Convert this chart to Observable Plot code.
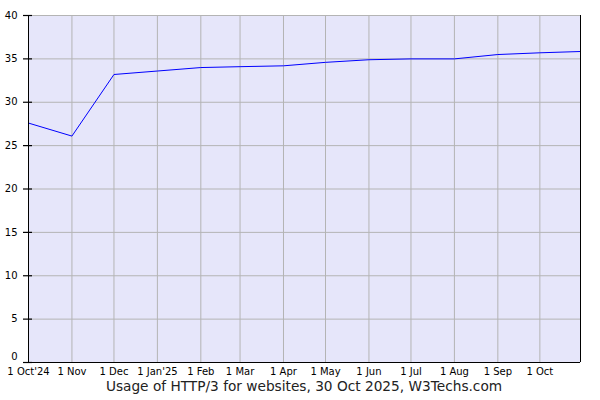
<!DOCTYPE html>
<html>
<head>
<meta charset="utf-8">
<script src="https://cdn.jsdelivr.net/npm/d3@7"></script>
<script src="https://cdn.jsdelivr.net/npm/@observablehq/plot@0.6"></script>
<style>
  body { margin: 0; background: #fff; font-family: "DejaVu Sans", Verdana, sans-serif; }
  #chart svg { display: block; }
  #caption { width: 600px; padding-left: 8px; box-sizing: border-box; text-align: center; font-size: 13.7px; line-height: 16px; color: #222; }
</style>
</head>
<body>
<div id="chart"></div>
<div id="caption">Usage of HTTP/3 for websites, 30 Oct 2025, W3Techs.com</div>
<script>
const dates = ["2024-10-01","2024-11-01","2024-12-01","2025-01-01","2025-02-01","2025-03-01","2025-04-01","2025-05-01","2025-06-01","2025-07-01","2025-08-01","2025-09-01","2025-10-01","2025-10-30"];
const usage = [27.6, 26.1, 33.2, 33.6, 34.0, 34.1, 34.2, 34.6, 34.9, 35.0, 35.0, 35.5, 35.7, 35.85];
const tickDates = ["2024-10-01","2024-11-01","2024-12-01","2025-01-01","2025-02-01","2025-03-01","2025-04-01","2025-05-01","2025-06-01","2025-07-01","2025-08-01","2025-09-01","2025-10-01"];
const tickLabels = ["1 Oct'24","1 Nov","1 Dec","1 Jan'25","1 Feb","1 Mar","1 Apr","1 May","1 Jun","1 Jul","1 Aug","1 Sep","1 Oct"];
const yTicks = [0, 5, 10, 15, 20, 25, 30, 35, 40];
const xStart = "2024-10-01";
const xEnd = "2025-10-30";

const data = dates.map((d, i) => ({date: new Date(d), value: usage[i]}));
const tDates = tickDates.map(d => new Date(d));
const labelMap = new Map(tDates.map((d, i) => [+d, tickLabels[i]]));

const W = 600, ML = 28, MR = 20;
const frameW = W - ML - MR;

const chart = Plot.plot({
  width: W,
  height: 378,
  marginLeft: ML,
  marginRight: MR,
  marginTop: 15,
  marginBottom: 16,
  style: {fontFamily: "DejaVu Sans, Verdana, sans-serif", fontSize: "10px", color: "#000", background: "#fff"},
  x: {type: "utc", domain: [new Date(xStart), new Date(xEnd)]},
  y: {domain: [0, 40]},
  marks: [
    Plot.frame({fill: "#e6e6fa", stroke: null}),
    Plot.gridX(tDates, {stroke: "#b4b4b4", strokeOpacity: 1}),
    Plot.gridY(yTicks, {stroke: "#b4b4b4", strokeOpacity: 1}),
    Plot.line(data, {x: "date", y: "value", stroke: "#0000ff", strokeWidth: 1}),
    Plot.ruleY([0], {stroke: "#000"}),
    Plot.ruleX([new Date(xStart), new Date(xEnd)], {stroke: "#000"}),
    Plot.tickY(yTicks, {y: d => d, stroke: "#000", strokeWidth: 1.2, insetLeft: -5, insetRight: frameW - 4}),
    Plot.axisY(yTicks, {tickSize: 0, tickPadding: 11, tickFormat: d => d === 0 ? "" : String(d), label: null}),
    Plot.axisY([0], {tickSize: 0, tickPadding: 11, dy: -6, tickFormat: d => String(d), label: null}),
    Plot.axisX(tDates, {tickSize: 0, tickPadding: 5, tickFormat: d => labelMap.get(+d), letterSpacing: "-0.5px", label: null})
  ]
});
document.getElementById("chart").appendChild(chart);
</script>
</body>
</html>
